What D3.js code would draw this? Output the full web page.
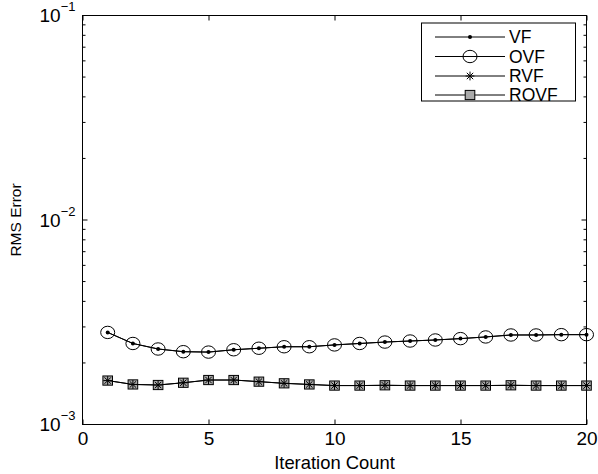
<!DOCTYPE html>
<html>
<head>
<meta charset="utf-8">
<script src="https://cdn.jsdelivr.net/npm/d3@7"></script>
<style>
  body { margin: 0; background: #fff; }
  text { font-family: "Liberation Sans", Arial, Helvetica, sans-serif; fill: #000; }
</style>
</head>
<body>
<script>
// data
const iterations = [1, 2, 3, 4, 5, 6, 7, 8, 9, 10, 11, 12, 13, 14, 15, 16, 17, 18, 19, 20];
const vf   = [2.82e-3, 2.49e-3, 2.34e-3, 2.27e-3, 2.26e-3, 2.32e-3, 2.36e-3, 2.40e-3, 2.40e-3, 2.45e-3,
              2.49e-3, 2.53e-3, 2.56e-3, 2.59e-3, 2.63e-3, 2.68e-3, 2.74e-3, 2.74e-3, 2.75e-3, 2.75e-3];
const ovf  = [2.82e-3, 2.49e-3, 2.34e-3, 2.27e-3, 2.26e-3, 2.32e-3, 2.36e-3, 2.40e-3, 2.40e-3, 2.45e-3,
              2.49e-3, 2.53e-3, 2.56e-3, 2.59e-3, 2.63e-3, 2.68e-3, 2.74e-3, 2.74e-3, 2.75e-3, 2.75e-3];
const rvf  = [1.64e-3, 1.57e-3, 1.56e-3, 1.60e-3, 1.65e-3, 1.65e-3, 1.62e-3, 1.59e-3, 1.57e-3, 1.55e-3,
              1.55e-3, 1.555e-3, 1.55e-3, 1.55e-3, 1.55e-3, 1.55e-3, 1.555e-3, 1.55e-3, 1.55e-3, 1.55e-3];
const rovf = [1.64e-3, 1.57e-3, 1.56e-3, 1.60e-3, 1.65e-3, 1.65e-3, 1.62e-3, 1.59e-3, 1.57e-3, 1.55e-3,
              1.55e-3, 1.555e-3, 1.55e-3, 1.55e-3, 1.55e-3, 1.55e-3, 1.555e-3, 1.55e-3, 1.55e-3, 1.55e-3];
const seriesNames = ['VF', 'OVF', 'RVF', 'ROVF'];
const xTicks = [0, 5, 10, 15, 20];
const yMajor = [1e-3, 1e-2, 1e-1];
const yExponents = ['\u22123', '\u22122', '\u22121'];

const width = 598, height = 474;
const pL = 82.5, pR = 586.5, pT = 15.5, pB = 424.5;

const svg = d3.select('body').append('svg')
  .attr('width', width)
  .attr('height', height);

const x = d3.scaleLinear().domain([0, 20]).range([pL, pR]);
const y = d3.scaleLog().domain([1e-3, 1e-1]).range([pB, pT]);

// axes box
svg.append('rect')
  .attr('x', pL).attr('y', pT)
  .attr('width', pR - pL).attr('height', pB - pT)
  .attr('fill', 'none').attr('stroke', '#000').attr('stroke-width', 1);

// x ticks (inside, bottom + top)
const xb = svg.append('g')
  .attr('transform', `translate(0,${pB})`)
  .call(d3.axisBottom(x).tickValues(xTicks).tickSizeInner(-5).tickSizeOuter(0).tickPadding(7));
xb.select('.domain').remove();
xb.selectAll('text').attr('font-size', 19).attr('font-family', null);
xb.selectAll('line').attr('stroke', '#000');

const xt = svg.append('g')
  .attr('transform', `translate(0,${pT})`)
  .call(d3.axisTop(x).tickValues(xTicks).tickSizeInner(-5).tickSizeOuter(0).tickFormat(''));
xt.select('.domain').remove();
xt.selectAll('line').attr('stroke', '#000');

// y ticks: majors longer, minors shorter, left + right
const allY = y.ticks();
const yl = svg.append('g');
yl.append('g').selectAll('line')
  .data(allY)
  .join('line')
  .attr('x1', pL)
  .attr('x2', d => pL + (yMajor.includes(d) ? 5 : 3))
  .attr('y1', d => y(d)).attr('y2', d => y(d))
  .attr('stroke', '#000');
yl.append('g').selectAll('line')
  .data(allY)
  .join('line')
  .attr('x1', pR)
  .attr('x2', d => pR - (yMajor.includes(d) ? 5 : 3))
  .attr('y1', d => y(d)).attr('y2', d => y(d))
  .attr('stroke', '#000');

// y labels 10^n
const ylab = svg.append('g').selectAll('text')
  .data(yMajor)
  .join('text')
  .attr('x', 75.5)
  .attr('y', d => y(d) + 6.5)
  .attr('text-anchor', 'end')
  .attr('font-size', 19);
ylab.append('tspan').text('10');
ylab.append('tspan')
  .attr('dy', -11)
  .attr('font-size', 13)
  .text((d, i) => yExponents[i]);

// axis titles
svg.append('text')
  .attr('x', (pL + pR) / 2)
  .attr('y', 469)
  .attr('text-anchor', 'middle')
  .attr('font-size', 18.4)
  .text('Iteration Count');

svg.append('text')
  .attr('transform', `translate(21,${(pT + pB) / 2}) rotate(-90)`)
  .attr('text-anchor', 'middle')
  .attr('font-size', 15.5)
  .text('RMS Error');

// lines + markers
const line = d3.line().x((d, i) => x(iterations[i])).y(d => y(d));
const plot = svg.append('g');

function drawCircle(g, cx, cy) {
  g.append('ellipse').attr('cx', cx).attr('cy', cy).attr('rx', 7).attr('ry', 6.2)
    .attr('fill', 'none').attr('stroke', '#000').attr('stroke-width', 1);
}
function drawDot(g, cx, cy) {
  g.append('circle').attr('cx', cx).attr('cy', cy).attr('r', 2).attr('fill', '#000');
}
function drawSquare(g, cx, cy) {
  g.append('rect').attr('x', cx - 4.8).attr('y', cy - 4.6).attr('width', 9.6).attr('height', 9.2)
    .attr('fill', '#aaa').attr('stroke', '#000').attr('stroke-width', 1);
}
function drawStar(g, cx, cy) {
  const s = 4.4, d = 3.2;
  const p = `M${cx - s},${cy}H${cx + s}M${cx},${cy - s}V${cy + s}` +
    `M${cx - d},${cy - d}L${cx + d},${cy + d}M${cx - d},${cy + d}L${cx + d},${cy - d}`;
  g.append('path').attr('d', p).attr('stroke', '#000').attr('stroke-width', 1).attr('fill', 'none');
}

const series = [
  {values: ovf, marks: [drawCircle]},
  {values: vf, marks: [drawDot]},
  {values: rovf, marks: [drawSquare]},
  {values: rvf, marks: [drawStar]}
];

// squares under stars, circles under dots
series.forEach(s => {
  plot.append('path')
    .datum(s.values)
    .attr('d', line)
    .attr('fill', 'none')
    .attr('stroke', '#000')
    .attr('stroke-width', 1);
  s.values.forEach((v, i) => {
    s.marks.forEach(m => m(plot, x(iterations[i]), y(v)));
  });
});

// legend
const lg = svg.append('g');
lg.append('rect')
  .attr('x', 421.5).attr('y', 23).attr('width', 154).attr('height', 78)
  .attr('fill', '#fff').attr('stroke', '#000').attr('stroke-width', 1);

const rowY = [37, 56.5, 76, 95];
const legendMarks = [[drawDot], [drawCircle], [drawStar], [drawSquare]];
seriesNames.forEach((name, i) => {
  const ry = rowY[i];
  lg.append('line').attr('x1', 435).attr('x2', 505).attr('y1', ry).attr('y2', ry)
    .attr('stroke', '#000').attr('stroke-width', 1);
  legendMarks[i].forEach(m => m(lg, 470, ry));
  lg.append('text')
    .attr('x', 509).attr('y', ry + 6)
    .attr('font-size', 17.5)
    .text(name);
});
</script>
</body>
</html>
